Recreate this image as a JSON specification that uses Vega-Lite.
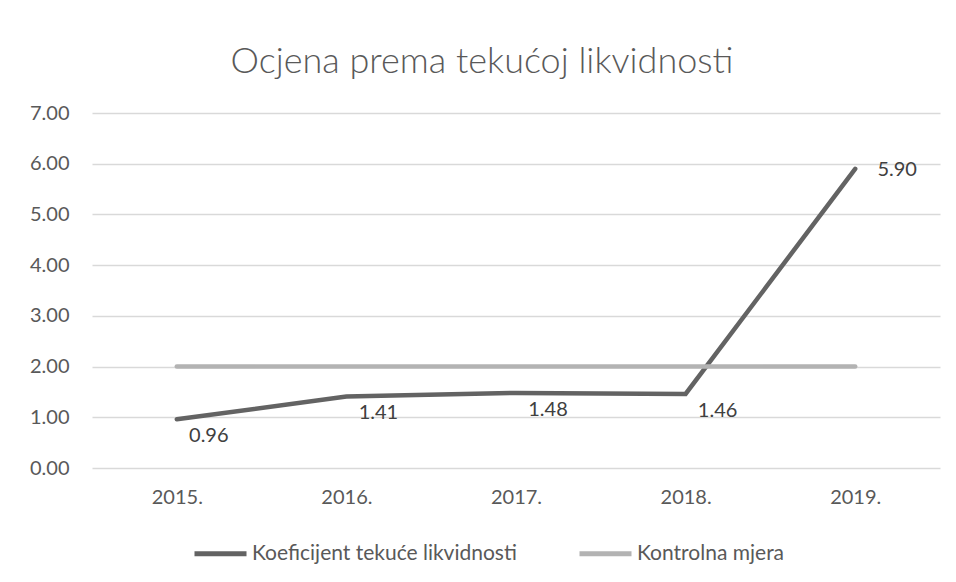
{
  "$schema": "https://vega.github.io/schema/vega-lite/v6.json",
  "width": 848,
  "height": 355,
  "autosize": {"type": "none"},
  "padding": {"left": 92, "top": 113, "right": 16, "bottom": 114},
  "background": "white",
  "title": {
    "text": "Ocjena prema tekućoj likvidnosti",
    "font": "Lato",
    "fontSize": 36,
    "fontWeight": 300,
    "color": "#595959",
    "anchor": "middle",
    "offset": 22,
    "dx": -34
  },
  "data": {
    "values": [
      {"year": "2015.", "series": "Koeficijent tekuće likvidnosti", "value": 0.96},
      {"year": "2016.", "series": "Koeficijent tekuće likvidnosti", "value": 1.41},
      {"year": "2017.", "series": "Koeficijent tekuće likvidnosti", "value": 1.48},
      {"year": "2018.", "series": "Koeficijent tekuće likvidnosti", "value": 1.46},
      {"year": "2019.", "series": "Koeficijent tekuće likvidnosti", "value": 5.90},
      {"year": "2015.", "series": "Kontrolna mjera", "value": 2.00},
      {"year": "2016.", "series": "Kontrolna mjera", "value": 2.00},
      {"year": "2017.", "series": "Kontrolna mjera", "value": 2.00},
      {"year": "2018.", "series": "Kontrolna mjera", "value": 2.00},
      {"year": "2019.", "series": "Kontrolna mjera", "value": 2.00}
    ]
  },
  "encoding": {
    "x": {
      "field": "year",
      "type": "ordinal",
      "scale": {"padding": 0.5},
      "axis": {
        "title": null,
        "domain": false,
        "ticks": false,
        "labelAngle": 0,
        "labelPadding": 19,
        "labelFontSize": 20,
        "labelColor": "#595959",
        "labelFont": "Lato",
        "grid": false
      }
    },
    "y": {
      "field": "value",
      "type": "quantitative",
      "scale": {"domain": [0, 7], "nice": false, "zero": true},
      "axis": {
        "title": null,
        "values": [0, 1, 2, 3, 4, 5, 6, 7],
        "format": ".2f",
        "domain": false,
        "ticks": false,
        "labelPadding": 23,
        "labelFontSize": 20,
        "labelColor": "#595959",
        "labelFont": "Lato",
        "gridColor": "#d9d9d9",
        "gridWidth": 1.3
      }
    }
  },
  "layer": [
    {
      "mark": {"type": "line", "strokeWidth": 4.5, "strokeCap": "round", "strokeJoin": "miter"},
      "encoding": {
        "color": {
          "field": "series",
          "type": "nominal",
          "scale": {
            "domain": ["Koeficijent tekuće likvidnosti", "Kontrolna mjera"],
            "range": ["#636363", "#b3b3b3"]
          },
          "legend": {
            "title": null,
            "orient": "none",
            "direction": "horizontal",
            "legendX": 100,
            "legendY": 412,
            "symbolType": "stroke",
            "symbolSize": 2704,
            "symbolStrokeWidth": 5,
            "labelOffset": 3,
            "columnPadding": 52,
            "labelFontSize": 21,
            "labelFont": "Lato",
            "labelColor": "#595959",
            "labelLimit": 400
          }
        }
      }
    },
    {
      "transform": [{"filter": "datum.series === 'Koeficijent tekuće likvidnosti' && datum.year !== '2019.'"}],
      "mark": {"type": "text", "dx": 32, "dy": 17, "fontSize": 20, "font": "Lato", "color": "#404040", "baseline": "middle"},
      "encoding": {"text": {"field": "value", "type": "quantitative", "format": ".2f"}}
    },
    {
      "transform": [{"filter": "datum.series === 'Koeficijent tekuće likvidnosti' && datum.year === '2019.'"}],
      "mark": {"type": "text", "dx": 42, "dy": 1, "fontSize": 20, "font": "Lato", "color": "#404040", "baseline": "middle"},
      "encoding": {"text": {"field": "value", "type": "quantitative", "format": ".2f"}}
    }
  ],
  "config": {"view": {"stroke": null}}
}
